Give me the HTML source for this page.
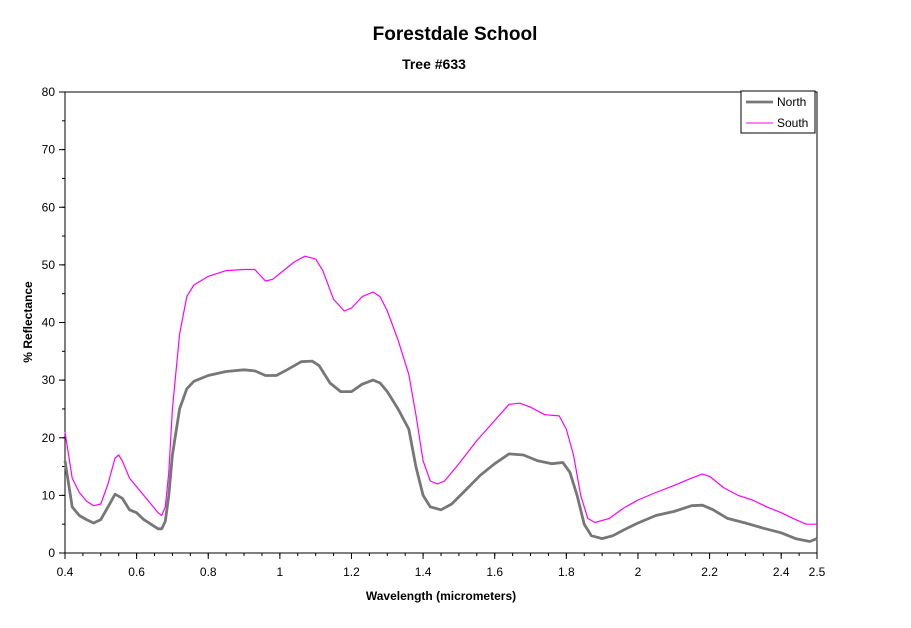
<!DOCTYPE html>
<html><head><meta charset="utf-8"><style>
body{margin:0;background:#fff;font-family:"Liberation Sans",Arial,sans-serif}
</style></head><body>
<svg id="chart" width="911" height="623" xmlns="http://www.w3.org/2000/svg" font-family="Liberation Sans, Arial, sans-serif">
<text x="455" y="40" text-anchor="middle" font-size="19" font-weight="bold">Forestdale School</text>
<text x="434" y="69" text-anchor="middle" font-size="14" font-weight="bold">Tree #633</text>
<text x="441" y="600" text-anchor="middle" font-size="12" font-weight="bold">Wavelength (micrometers)</text>
<text transform="translate(32,322) rotate(-90)" text-anchor="middle" font-size="12" font-weight="bold">% Reflectance</text>
<rect x="65" y="92" width="752" height="461" fill="none" stroke="#000" stroke-width="1"/>
<g id="axes"></g>
<g id="series"></g>
<g>
<rect x="741" y="91" width="74" height="42" fill="#fff" stroke="#000"/>
<line x1="746" y1="102" x2="773" y2="102" stroke="#777" stroke-width="2.8"/>
<text x="777" y="106" font-size="12">North</text>
<line x1="746" y1="123" x2="773" y2="123" stroke="#ff00ff" stroke-width="1"/>
<text x="777" y="127" font-size="12">South</text>
</g>
</svg>
<script>
const xTicks=[0.4,0.6,0.8,1,1.2,1.4,1.6,1.8,2,2.2,2.4,2.5];
const yTicks=[0,10,20,30,40,50,60,70,80];
const southX=[0.40,0.42,0.44,0.46,0.48,0.50,0.52,0.54,0.55,0.56,0.58,0.60,0.62,0.64,0.66,0.67,0.68,0.69,0.70,0.72,0.74,0.76,0.80,0.85,0.90,0.93,0.96,0.98,1.00,1.04,1.07,1.10,1.12,1.15,1.18,1.20,1.23,1.26,1.28,1.30,1.33,1.36,1.38,1.40,1.42,1.44,1.46,1.50,1.55,1.60,1.64,1.67,1.70,1.74,1.78,1.80,1.82,1.84,1.86,1.88,1.92,1.96,2.00,2.05,2.10,2.15,2.18,2.20,2.24,2.28,2.32,2.36,2.40,2.44,2.47,2.50];
const southY=[21,13,10.5,9,8.2,8.5,12,16.5,17,16,13,11.5,10,8.5,7,6.5,8,14,25,38,44.5,46.5,48,49,49.2,49.2,47.2,47.5,48.5,50.5,51.5,51,49,44,42,42.5,44.5,45.3,44.5,42,37,31,24,16,12.5,12,12.5,15.5,19.5,23,25.8,26,25.3,24,23.8,21.5,17,10,6,5.3,6,7.8,9.2,10.5,11.7,13,13.7,13.3,11.3,10,9.2,8,7,5.8,5,5];
const northX=[0.40,0.42,0.44,0.46,0.48,0.50,0.52,0.54,0.56,0.58,0.60,0.62,0.64,0.66,0.67,0.68,0.69,0.70,0.72,0.74,0.76,0.80,0.85,0.90,0.93,0.96,0.99,1.02,1.06,1.09,1.11,1.14,1.17,1.20,1.23,1.26,1.28,1.30,1.33,1.36,1.38,1.40,1.42,1.45,1.48,1.52,1.56,1.60,1.64,1.68,1.72,1.76,1.79,1.81,1.83,1.85,1.87,1.90,1.93,1.96,2.00,2.05,2.10,2.15,2.18,2.21,2.25,2.30,2.35,2.40,2.44,2.48,2.50];
const northY=[16,8,6.5,5.8,5.2,5.8,8,10.2,9.5,7.5,7,5.8,5,4.2,4.2,5.5,10,17,25,28.5,29.8,30.8,31.5,31.8,31.6,30.8,30.8,31.8,33.2,33.3,32.5,29.5,28,28,29.3,30,29.5,28,25,21.5,15,10,8,7.5,8.5,11,13.5,15.5,17.2,17,16,15.5,15.7,14,10,5,3,2.5,3,4,5.2,6.5,7.2,8.2,8.3,7.5,6,5.2,4.3,3.5,2.5,2,2.5];
const NS="http://www.w3.org/2000/svg";
const sx=v=>65+(v-0.4)/2.1*752;
const sy=v=>553-v/80*461;
const axes=document.getElementById('axes');
function tick(x1,y1,x2,y2,name){
 const l=document.createElementNS(NS,'line');
 l.setAttribute('x1',x1);l.setAttribute('x2',x2);l.setAttribute('y1',y1);l.setAttribute('y2',y2);l.setAttribute('stroke','#000');
 
 
 axes.appendChild(l);
}
for(let i=0;i<=42;i++){const v=0.4+i*0.05;tick(sx(v),553,sx(v),556,'x-minor-tick');}
for(let i=0;i<=16;i++){const v=i*5;tick(62,sy(v),65,sy(v),'y-minor-tick');}
xTicks.forEach(t=>{
 tick(sx(t),553,sx(t),559,'x-tick');
 const tx=document.createElementNS(NS,'text');
 tx.setAttribute('x',sx(t));tx.setAttribute('y',576);tx.setAttribute('text-anchor','middle');tx.setAttribute('font-size','12');
 tx.textContent=String(t);
 
 
 axes.appendChild(tx);
});
yTicks.forEach(t=>{
 tick(59,sy(t),65,sy(t),'y-tick');
 const tx=document.createElementNS(NS,'text');
 tx.setAttribute('x',55);tx.setAttribute('y',sy(t)+4);tx.setAttribute('text-anchor','end');tx.setAttribute('font-size','12');
 tx.textContent=String(t);
 
 
 axes.appendChild(tx);
});
function line(xs,ys,color,w,name){
 const p=document.createElementNS(NS,'polyline');
 p.setAttribute('points',xs.map((x,i)=>sx(x).toFixed(1)+','+sy(ys[i]).toFixed(1)).join(' '));
 p.setAttribute('fill','none');p.setAttribute('stroke',color);p.setAttribute('stroke-width',w);p.setAttribute('stroke-linejoin','round');
 
 
 document.getElementById('series').appendChild(p);
}
line(southX,southY,'#ff00ff',1.2,'south-line');
line(northX,northY,'#777777',2.8,'north-line');
</script>
</body></html>
